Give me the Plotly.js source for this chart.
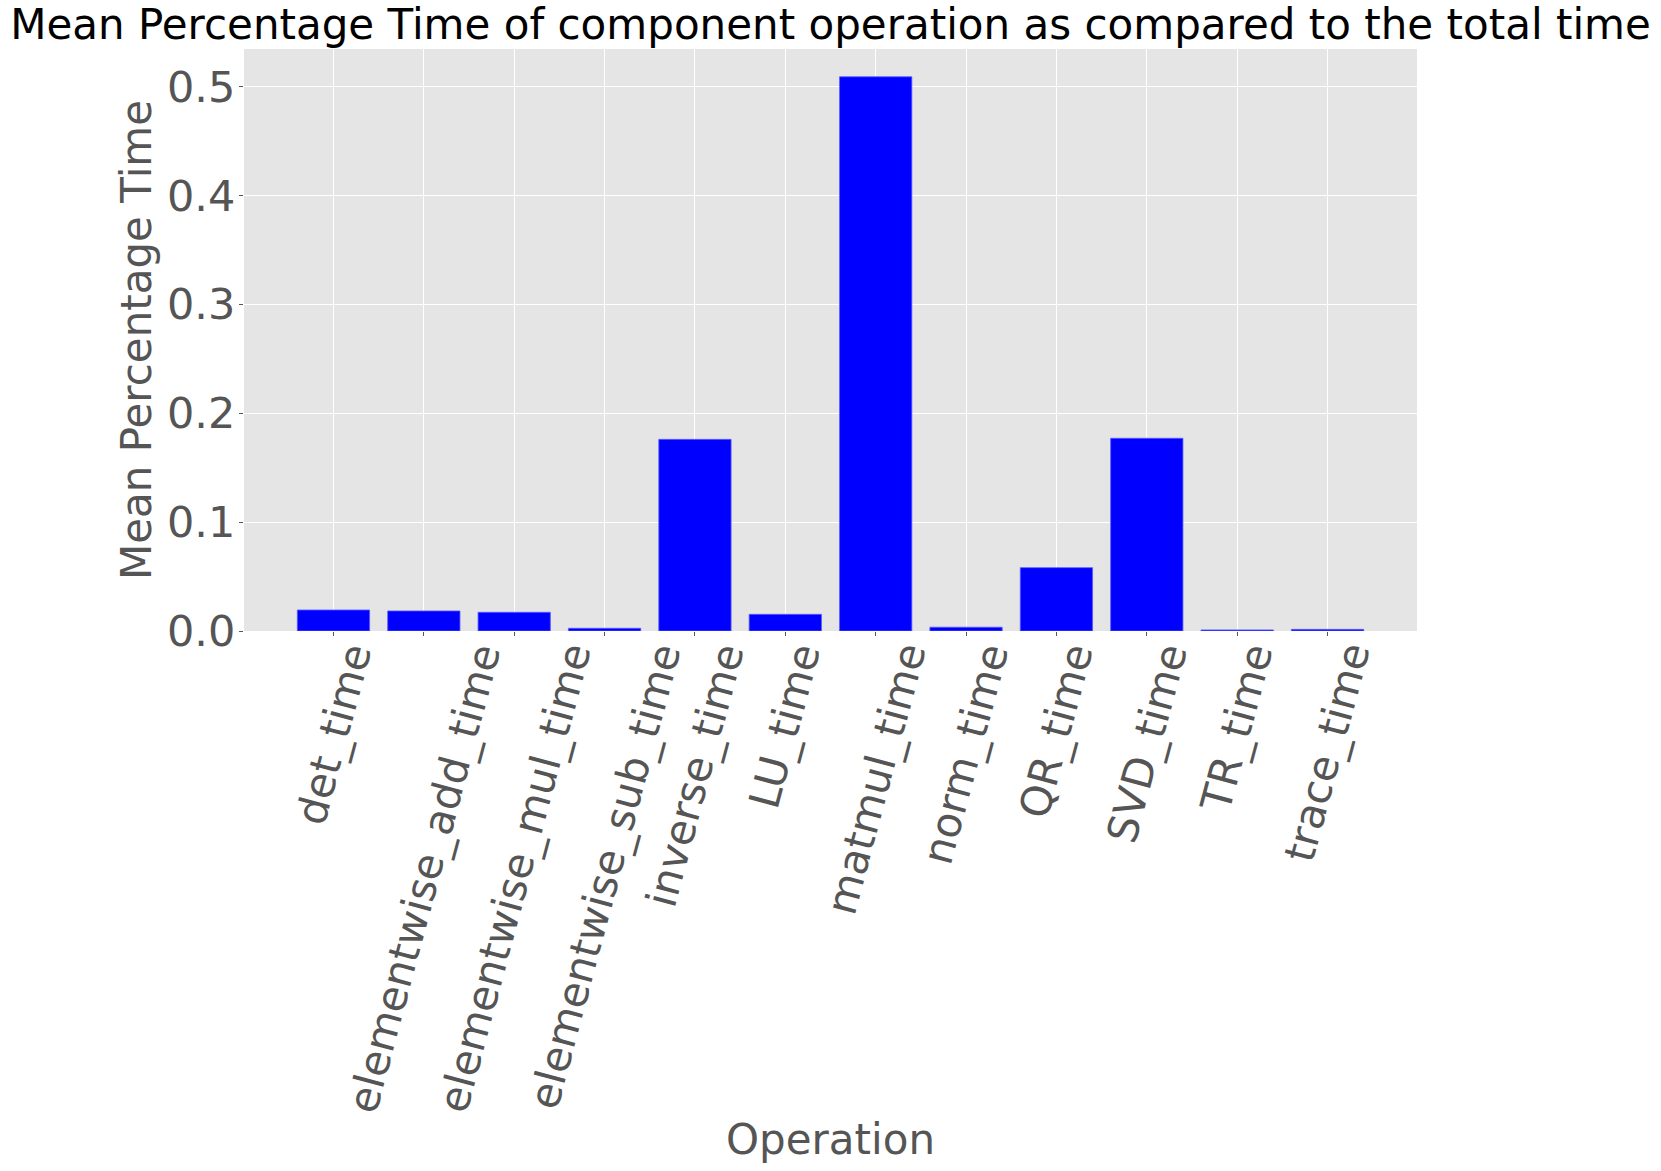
<!DOCTYPE html>
<html>
<head>
<meta charset="utf-8">
<script src="https://cdn.plot.ly/plotly-3.0.1.min.js"></script>
<style>html,body{margin:0;padding:0;background:#fff;}#chart{width:1661px;height:1171px;}</style>
</head>
<body>
<div id="chart"></div>
<script>
const operations = ["det_time","elementwise_add_time","elementwise_mul_time","elementwise_sub_time","inverse_time","LU_time","matmul_time","norm_time","QR_time","SVD_time","TR_time","trace_time"];
const meanPercentage = [0.0193,0.0184,0.0172,0.0025,0.176,0.0153,0.509,0.0035,0.0582,0.177,0.001,0.0015];
const yTicks = [0.0,0.1,0.2,0.3,0.4,0.5];

const font = "DejaVu Sans, Liberation Sans, sans-serif";
const data = [{
  type: "bar",
  x: operations,
  y: meanPercentage,
  width: 0.8,
  marker: {color: "#0000ff", line: {color: "rgba(90,90,255,0.8)", width: 1}},
  hoverinfo: "x+y"
}];

const tickAnnotations = operations.map(op => ({
  x: op, xref: "x", y: 0, yref: "paper",
  text: op, showarrow: false,
  textangle: -75, xanchor: "center", yanchor: "top", yshift: -5,
  font: {family: font, size: 42, color: "#555555"}
}));

const layout = {
  width: 1661, height: 1171,
  paper_bgcolor: "#ffffff",
  plot_bgcolor: "#e5e5e5",
  margin: {l: 244, r: 244, t: 49, b: 540, pad: 0},
  showlegend: false,
  bargap: 0.2,
  title: {text: "Mean Percentage Time of component operation as compared to the total time",
          font: {family: font, size: 42, color: "#000000"}, x: 0.5, xanchor: "center", y: 0.979, yanchor: "middle"},
  xaxis: {
    type: "category",
    range: [-0.99, 11.99],
    showticklabels: false,
    ticks: "outside", ticklen: 4, tickcolor: "#555555", tickwidth: 1,
    showgrid: true, gridcolor: "#ffffff", gridwidth: 1,
    zeroline: false, showline: false
  },
  yaxis: {
    range: [0, 0.5345],
    tickvals: yTicks,
    ticktext: yTicks.map(v => v.toFixed(1)),
    tickfont: {family: font, size: 43, color: "#555555"},
    ticks: "outside", ticklen: 4, tickcolor: "#555555", tickwidth: 1,
    ticklabelstandoff: -5,
    showgrid: true, gridcolor: "#ffffff", gridwidth: 1,
    zeroline: false, showline: false,
    title: {text: "Mean Percentage Time", font: {family: font, size: 42, color: "#555555"}, standoff: 2}
  },
  annotations: tickAnnotations.concat([{
    x: 0.5, xref: "paper", y: -0.873, yref: "paper",
    text: "Operation", showarrow: false, xanchor: "center", yanchor: "middle",
    font: {family: font, size: 42, color: "#555555"}
  }])
};
Plotly.newPlot("chart", data, layout, {displayModeBar: false, staticPlot: true});
</script>
</body>
</html>
